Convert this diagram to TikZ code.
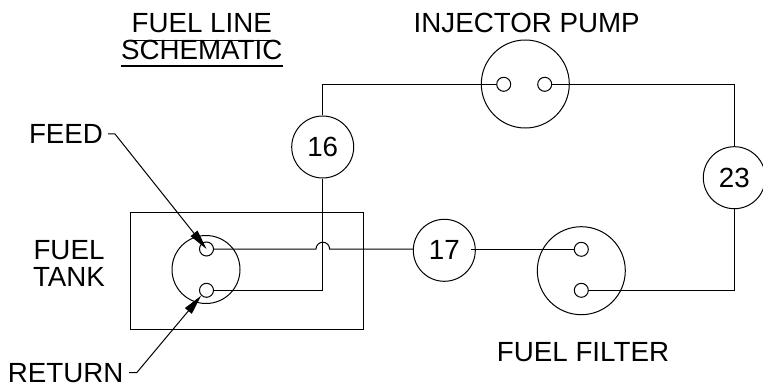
\documentclass[tikz,border=0pt]{standalone}
\usepackage{fontspec}
\setmainfont{Liberation Sans}
\usetikzlibrary{arrows.meta}

\begin{document}
\begin{tikzpicture}[
  x=0.75pt, y=-0.75pt,
  line width=0.75pt,
  font=\fontsize{20.8}{20.25}\selectfont,
  lbl/.style={inner sep=0pt, align=center},
  big/.style={draw, circle, inner sep=0pt, minimum size=66pt},
  tag/.style={draw, circle, inner sep=0pt, minimum size=46.5pt},
  port/.style={draw, circle, inner sep=0pt, minimum size=10.5pt},
  arr/.style={-{Triangle[length=15pt, width=6.5pt]}},
]
\useasboundingbox (0,0) rectangle (763,392);
\node[draw, minimum width=175pt, minimum height=87.75pt, inner sep=0pt] (tank) at (247.3,270.8) {};
\node[draw, circle, inner sep=0pt, minimum size=51pt] (tankbody) at (206,269.5) {};
\node[big] (pump) at (525.3,84) {};
\node[big] (filter) at (581.3,270.7) {};
\node[port] (feed) at (206.5,249) {};
\node[port] (return) at (206.5,290.3) {};
\node[port] (pumpin) at (503.7,84.3) {};
\node[port] (pumpout) at (544.7,84.3) {};
\node[port] (filterin) at (581.3,249.3) {};
\node[port] (filterout) at (581.3,290.3) {};
\node[tag] (n16) at (322.7,147) {16};
\node[tag] (n17) at (444.3,250.3) {17};
\node[tag] (n23) at (734.3,177.7) {23};

\node[lbl] (title) at (201.7,23) {FUEL LINE};
\node[lbl] (title2) at (201.7,50) {SCHEMATIC};
\node[lbl] (pumplbl) at (526.7,23) {INJECTOR PUMP};
\node[lbl] (filterlbl) at (583,352) {FUEL FILTER};
\node[lbl, anchor=east] (feedlbl) at (103.5,134) {FEED};
\node[lbl, anchor=east] (returnlbl) at (124,373) {RETURN};
\node[lbl] (tanklbl) at (69,263.5) {FUEL\\TANK};

\draw ([yshift=-5.2pt]title.south west) -- ([yshift=-5.2pt]title.south east);
\draw[line width=1.5pt] ([yshift=-4.2pt]title2.south west) -- ([yshift=-4.2pt]title2.south east);

\draw (n16.north) |- (pumpin.west);
\draw (pumpout.east) -| (n23.north);
\draw (n23.south) |- (filterout.east);
\draw ([xshift=-3.5pt]n17.east |- filterin) -- (filterin.west);
\draw (return.east) -| (n16.south);
\coordinate (hop) at (316,249);
\draw (feed.east) -- (hop) arc (180:360:6.8) -- (n17.west |- feed);
\coordinate (feedend) at (108,134);
\coordinate (feedknee) at (115,134);
\coordinate (returnend) at (129,372.7);
\coordinate (returnknee) at (136.7,372.7);
\draw[arr] (feedend) -- (feedknee) -- (feed.center);
\draw[arr] (returnend) -- (returnknee) -- (return.south west);
\end{tikzpicture}
\end{document}
